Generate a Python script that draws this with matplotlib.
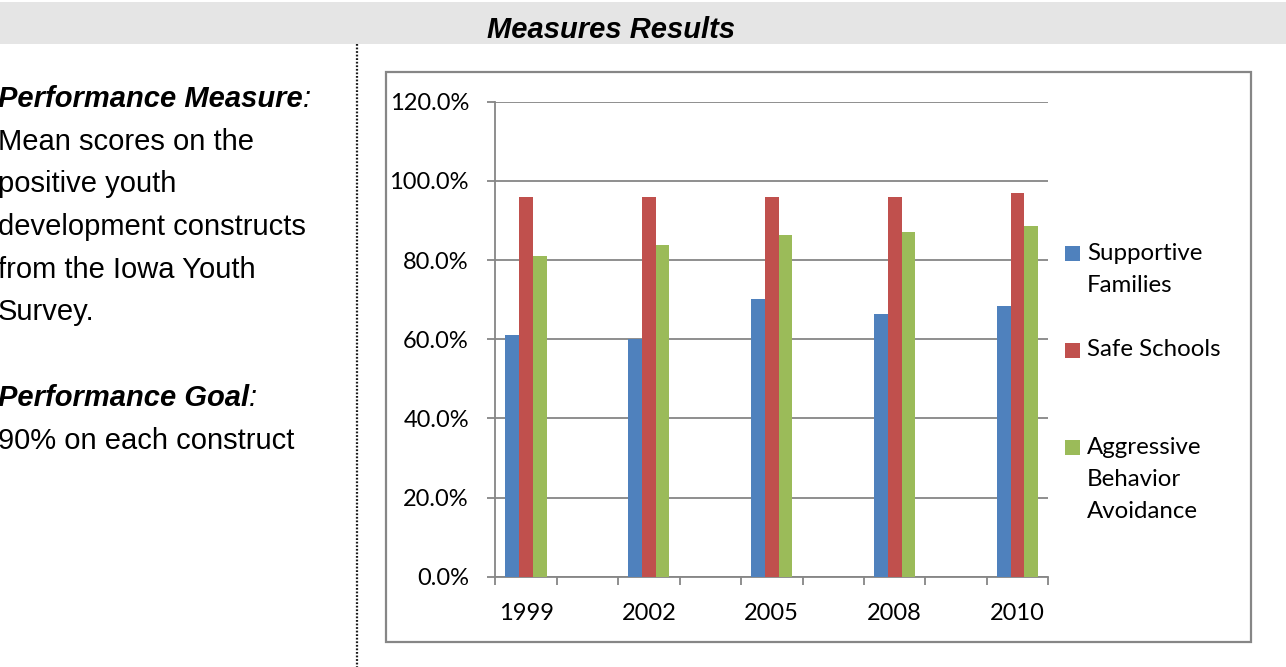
import numpy as np
import matplotlib
matplotlib.use("Agg")
import matplotlib.pyplot as plt
from matplotlib.patches import Rectangle
from matplotlib.lines import Line2D
from matplotlib.ticker import FixedLocator, FuncFormatter

# data
years = ["1999", "2002", "2005", "2008", "2010"]
supportive_families = [61.0, 60.1, 70.1, 66.3, 68.5]
safe_schools = [96.0, 96.0, 96.0, 96.0, 96.9]
aggressive_avoidance = [80.9, 83.8, 86.2, 87.0, 88.6]
series_names = ["Supportive\nFamilies", "Safe Schools", "Aggressive\nBehavior\nAvoidance"]
series_colors = ["#4F81BD", "#C0504D", "#9BBB59"]
y_ticks = [0, 20, 40, 60, 80, 100, 120]

left_lines = [
    ("Performance Measure", True),
    ("Mean scores on the", False),
    ("positive youth", False),
    ("development constructs", False),
    ("from the Iowa Youth", False),
    ("Survey.", False),
    ("", False),
    ("Performance Goal", True),
    ("90% on each construct", False),
]

W, H = 1286, 667
fig = plt.figure(figsize=(W / 100, H / 100), dpi=100)


# pixel helpers (origin top-left)
def fx(x):
    return x / W


def fy(y):
    return 1 - y / H


# header band + title
fig.patches.append(Rectangle((0, fy(44)), 1, (44 - 2) / H, transform=fig.transFigure,
                             facecolor="#E5E5E5", edgecolor="none", zorder=0))
fig.text(fx(611), fy(37.5), "Measures Results", ha="center", va="baseline",
         fontsize=21, fontweight="bold", fontstyle="italic", family="Liberation Sans")

# dotted divider
fig.add_artist(Line2D([fx(356.7), fx(356.7)], [fy(44), 0], transform=fig.transFigure,
                      color="#1a1a1a", lw=1.6, linestyle=(0, (0.8, 0.8))))

# left text column
renderer = fig.canvas.get_renderer()
for i, (line, is_head) in enumerate(left_lines):
    if not line:
        continue
    yb = fy(107 + i * 42.7)
    if is_head:
        t = fig.text(fx(-2), yb, line, ha="left", va="baseline", fontsize=21,
                     fontweight="bold", fontstyle="italic", family="Liberation Sans")
        bb = t.get_window_extent(renderer=renderer)
        fig.text(bb.x1 / W, yb, ":", ha="left", va="baseline", fontsize=21,
                 fontstyle="italic", family="Liberation Sans")
    else:
        fig.text(fx(-2), yb, line, ha="left", va="baseline", fontsize=21,
                 family="Liberation Sans")

# chart frame
fig.patches.append(Rectangle((fx(386.3), fy(641.7)), (1250.7 - 386.3) / W, (641.7 - 72.3) / H,
                             transform=fig.transFigure, facecolor="white",
                             edgecolor="#868686", lw=1.6, zorder=1))

# bar chart
ax = fig.add_axes([fx(495.3), fy(576.7), (1048.3 - 495.3) / W, (576.7 - 101.7) / H])
ax.set_zorder(2)
ax.patch.set_alpha(0)

pos = np.arange(len(years)) * 2
bw = 0.223
for k, (vals, col) in enumerate(zip([supportive_families, safe_schools, aggressive_avoidance],
                                    series_colors)):
    ax.bar(pos + (k - 1) * bw, vals, width=bw, color=col, zorder=3)

ax.set_xlim(-0.5, pos[-1] + 0.5)
ax.set_ylim(0, 120)
ax.set_yticks(y_ticks)
ax.yaxis.set_major_formatter(FuncFormatter(lambda v, p: f"{v:.1f}%"))
ax.grid(axis="y", color="#868686", lw=1.3, zorder=0)
ax.set_axisbelow(True)

# category boundaries get tick marks, labels sit on the year slots
ax.xaxis.set_major_locator(FixedLocator(np.arange(-0.5, pos[-1] + 1, 1.0)))
ax.xaxis.set_major_formatter(FuncFormatter(lambda v, p: ""))
ax.xaxis.set_minor_locator(FixedLocator(pos))
ax.set_xticklabels(years, minor=True)
ax.tick_params(axis="x", which="major", length=6, width=1.3, color="#868686", direction="out")
ax.tick_params(axis="x", which="minor", length=0, pad=19)
ax.tick_params(axis="y", length=6, width=1.3, color="#868686", pad=13)

for lab in ax.get_xticklabels(minor=True) + ax.get_yticklabels():
    lab.set_family("Lato")
    lab.set_fontsize(17)

for s in ["top", "right"]:
    ax.spines[s].set_visible(False)
for s in ["left", "bottom"]:
    ax.spines[s].set_color("#868686")
    ax.spines[s].set_linewidth(1.3)

# legend, square aligned with first line of each entry
for k, (name, col) in enumerate(zip(series_names, series_colors)):
    y0 = 253 + k * 97
    fig.patches.append(Rectangle((fx(1065), fy(y0 + 7.5)), 15 / W, 15 / H,
                                 transform=fig.transFigure, facecolor=col,
                                 edgecolor="none", zorder=3))
    for j, part in enumerate(name.split("\n")):
        fig.text(fx(1087), fy(y0 + j * 32.5), part, ha="left", va="center",
                 fontsize=17.3, family="Lato", zorder=3)

fig.savefig("out.png", dpi=100)
